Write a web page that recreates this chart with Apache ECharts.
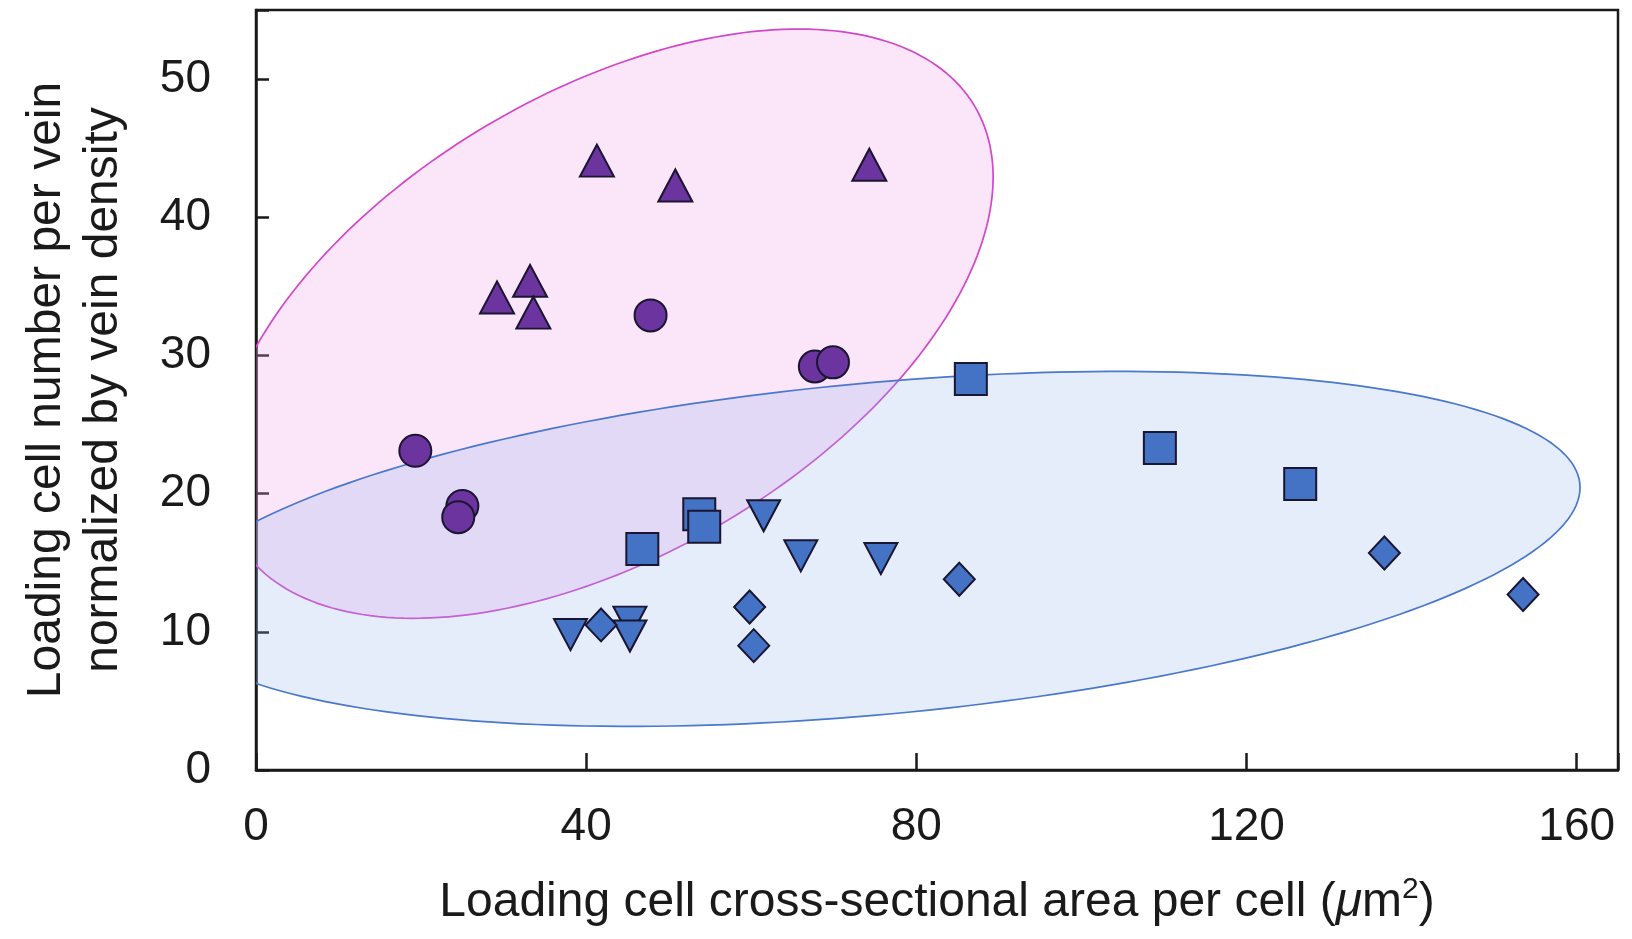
<!DOCTYPE html>
<html>
<head>
<meta charset="utf-8">
<script src="https://cdn.jsdelivr.net/npm/echarts@6/dist/echarts.min.js"></script>
<style>
html,body{margin:0;padding:0;background:#fff;}
#chart{width:1632px;height:939px;}
</style>
</head>
<body>
<div id="chart"></div>
<script>
// ---- data (x: loading cell cross-sectional area per cell, y: loading cell number per vein / vein density)
const purpleTriangles = [[41.3,44.1],[50.8,42.3],[74.3,43.8],[29.2,34.2],[33.2,35.4],[33.6,33.1]];
const purpleCircles   = [[47.8,32.9],[67.7,29.2],[69.9,29.5],[19.3,23.1],[25.0,19.1],[24.5,18.3]];
const blueSquares     = [[86.6,28.3],[109.5,23.3],[126.5,20.7],[46.8,16.0],[53.7,18.5],[54.3,17.6]];
const blueDownTris    = [[38.1,9.8],[45.3,10.7],[45.3,9.7],[61.5,18.4],[66.0,15.5],[75.7,15.3]];
const blueDiamonds    = [[41.8,10.5],[59.8,11.8],[60.3,9.0],[85.2,13.8],[136.7,15.7],[153.5,12.7]];
// ellipses in data units: [centerX, centerY, axis1X, axis1Y, axis2X, axis2Y]
const pinkEllipse = [42.4, 32.3, 46.9, 10.6, 0, 18.5];
const blueEllipse = [74.8, 16.0, 85.6, 4.44, 0, 12.05];
const xTickLabels = ['0','40','80','120','160'];
const yTickLabels = ['0','10','20','30','40','50'];

const FONT = "'Liberation Sans', Arial, Helvetica, sans-serif";
const chart = echarts.init(document.getElementById('chart'), null, {renderer:'canvas'});

function ellipseSeries(name, e, fill, stroke) {
  return {
    type: 'custom', name: name, silent: true, z: 1, clip: true,
    data: [[e[0], e[1]]],
    encode: {x: 0, y: 1},
    renderItem: function (params, api) {
      const pts = [];
      const n = 240;
      for (let i = 0; i < n; i++) {
        const t = i / n * Math.PI * 2;
        pts.push(api.coord([
          e[0] + e[2] * Math.cos(t) + e[4] * Math.sin(t),
          e[1] + e[3] * Math.cos(t) + e[5] * Math.sin(t)
        ]));
      }
      const cs = params.coordSys;
      return {
        type: 'group',
        clipPath: {type: 'rect', shape: {x: cs.x, y: cs.y, width: cs.width, height: cs.height}},
        children: [{
          type: 'polygon',
          shape: {points: pts},
          style: {fill: fill, stroke: stroke, lineWidth: 1.7}
        }]
      };
    }
  };
}

function markers(name, data, symbol, size, color, rotate) {
  return {
    type: 'scatter', name: name, data: data, symbol: symbol, symbolSize: size,
    symbolRotate: rotate || 0, z: 5,
    itemStyle: {color: color, borderColor: '#1a1530', borderWidth: 2, opacity: 1}
  };
}

const option = {
  animation: false,
  backgroundColor: '#ffffff',
  grid: {left: 256, right: 14, top: 10, bottom: 169, show: true, borderColor: '#1a1a1a', borderWidth: 2.5, backgroundColor: 'transparent'},
  xAxis: {
    type: 'value', min: 0, max: 165, interval: 40,
    name: 'Loading cell cross-sectional area per cell ({it|μ}m{sup|2})',
    nameLocation: 'middle', nameGap: 105,
    nameTextStyle: {fontFamily: FONT, fontSize: 48, color: '#1a1a1a', lineHeight: 56,
      rich: {it: {fontFamily: FONT, fontSize: 48, fontStyle: 'italic', color: '#1a1a1a', lineHeight: 56},
             sup: {fontFamily: FONT, fontSize: 30, color: '#1a1a1a', verticalAlign: 'top', lineHeight: 56, padding: [0,0,20,0]}}},
    axisLine: {show: true, onZero: false, lineStyle: {color: '#1a1a1a', width: 2.5}},
    axisTick: {show: true, inside: true, length: 17, lineStyle: {color: '#1a1a1a', width: 2.5}},
    axisLabel: {margin: 34, fontFamily: FONT, fontSize: 46, color: '#1a1a1a', lineHeight: 46,
      formatter: function (v) { const i = xTickLabels.indexOf(String(v)); return i >= 0 ? xTickLabels[i] : ''; }},
    splitLine: {show: false}
  },
  yAxis: {
    type: 'value', min: 0, max: 55, interval: 10,
    name: 'Loading cell number per vein\nnormalized by vein density',
    nameLocation: 'middle', nameGap: 124,
    nameTextStyle: {fontFamily: FONT, fontSize: 48, color: '#1a1a1a', lineHeight: 57},
    axisLine: {show: true, onZero: false, lineStyle: {color: '#1a1a1a', width: 2.5}},
    axisTick: {show: true, inside: true, length: 13, lineStyle: {color: '#1a1a1a', width: 2.5}},
    axisLabel: {margin: 45, fontFamily: FONT, fontSize: 46, color: '#1a1a1a',
      formatter: function (v) { const i = yTickLabels.indexOf(String(v)); return i >= 0 ? yTickLabels[i] : ''; }},
    splitLine: {show: false}
  },
  series: [
    ellipseSeries('pink ellipse', pinkEllipse, 'rgba(242,160,232,0.28)', '#d246c8'),
    ellipseSeries('blue ellipse', blueEllipse, 'rgba(150,182,240,0.25)', '#4a78cc'),
    markers('triangle', purpleTriangles, 'triangle', [34, 32], '#6b349e'),
    markers('circle', purpleCircles, 'circle', 32, '#6b349e'),
    markers('square', blueSquares, 'rect', 32, '#4472c4'),
    markers('down triangle', blueDownTris, 'triangle', [33, 31], '#4472c4', 180),
    markers('diamond', blueDiamonds, 'diamond', [31, 33], '#4472c4')
  ]
};
chart.setOption(option);
</script>
</body>
</html>
